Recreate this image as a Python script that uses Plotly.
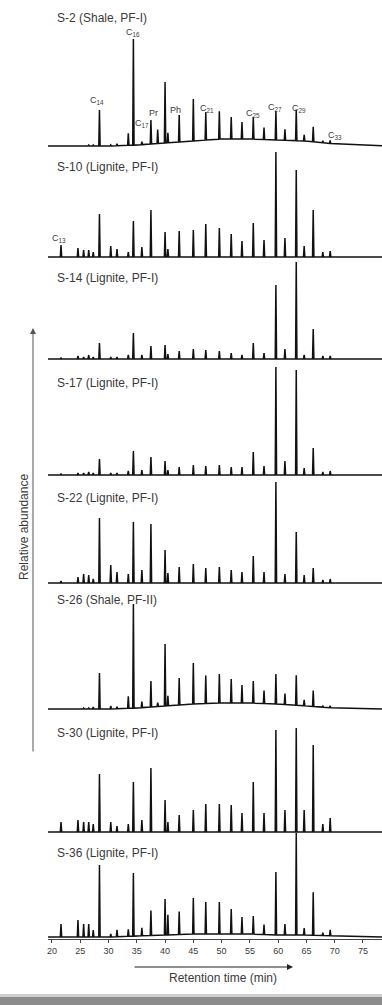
import numpy as np
import plotly.graph_objects as go

# ---------------- data ----------------
SAMPLES = ["S-2 (Shale, PF-I)", "S-10 (Lignite, PF-I)", "S-14 (Lignite, PF-I)",
           "S-17 (Lignite, PF-I)", "S-22 (Lignite, PF-I)", "S-26 (Shale, PF-II)",
           "S-30 (Lignite, PF-I)", "S-36 (Lignite, PF-I)"]

# retention times (min) of resolved peaks
RT = [21.6, 24.6, 25.6, 26.5, 27.3, 28.4, 30.4, 31.5, 33.5, 34.4, 35.9, 37.5, 38.7, 40.0, 40.5,
      42.5, 45.0, 47.2, 49.6, 51.7, 53.6, 55.6, 57.5, 59.6, 61.2, 63.2, 64.6, 66.2, 67.9, 69.2]

# relative abundance (peak heights) per sample
S2 = [0, 0, 0, 1, 1, 36, 1, 2, 12, 106, 3, 24, 14, 61, 10, 27, 42, 28, 28, 22, 17, 22, 12, 29, 11, 31, 6, 15, 2, 3]
S10 = [12, 9, 7, 7, 5, 43, 11, 8, 5, 36, 10, 47, 0, 25, 8, 26, 27, 33, 29, 23, 16, 34, 17, 105, 19, 87, 11, 47, 5, 6]
S14 = [1, 3, 2, 4, 2, 16, 2, 2, 4, 26, 4, 13, 0, 14, 5, 8, 10, 9, 8, 6, 4, 16, 6, 74, 10, 97, 4, 30, 3, 3]
S17 = [1, 2, 2, 3, 2, 16, 2, 2, 4, 24, 5, 18, 0, 14, 5, 8, 10, 9, 10, 8, 8, 23, 9, 108, 14, 105, 7, 27, 3, 4]
S22 = [2, 6, 9, 8, 4, 65, 18, 11, 9, 61, 13, 59, 0, 33, 10, 16, 19, 15, 16, 13, 11, 27, 11, 101, 9, 51, 8, 15, 3, 4]
S26 = [0, 0, 1, 1, 2, 36, 3, 2, 12, 104, 6, 26, 4, 62, 10, 27, 41, 28, 29, 24, 18, 22, 13, 30, 11, 30, 6, 16, 1, 2]
S30 = [10, 12, 10, 10, 8, 58, 10, 6, 8, 50, 12, 64, 0, 32, 10, 17, 22, 28, 28, 27, 19, 50, 19, 102, 22, 104, 22, 87, 8, 14]
S36 = [13, 17, 13, 13, 7, 72, 3, 7, 7, 63, 8, 25, 0, 36, 20, 23, 36, 32, 32, 25, 17, 18, 10, 63, 11, 102, 7, 43, 3, 6]
HEIGHTS = [S2, S10, S14, S17, S22, S26, S30, S36]

# unresolved complex mixture (baseline hump)
HUMP_RT = [19, 30, 35, 40, 45, 50, 55, 60, 65, 70, 79]
HUMP_S2 = [0, 0, 1, 3, 5, 7, 7, 6, 5, 2, 0]
HUMP_S26 = [0, 0, 1, 3, 5, 6, 6, 5, 3, 1, 0]
HUMP_S36 = [0, 0, 1, 2, 3, 3, 3, 2, 2, 1, 0]
HUMP_NONE = [0] * 11
HUMPS = [HUMP_S2, HUMP_NONE, HUMP_NONE, HUMP_NONE, HUMP_NONE, HUMP_S26, HUMP_NONE, HUMP_S36]

# S-2 peak labels
PK_LABELS = ["C<sub>14</sub>", "C<sub>16</sub>", "C<sub>17</sub>", "Pr", "Ph", "C<sub>21</sub>",
             "C<sub>25</sub>", "C<sub>27</sub>", "C<sub>29</sub>", "C<sub>33</sub>"]
PK_LABEL_RT = [28.0, 34.3, 35.9, 37.9, 41.8, 47.4, 55.6, 59.5, 63.7, 70.1]
PK_LABEL_PX = [100, 32, 123, 113, 110, 108, 113, 107, 108, 135]

XTICKS = [20, 25, 30, 35, 40, 45, 50, 55, 60, 65, 70, 75]

# ---------------- layout geometry (pixels) ----------------
W, H = 382, 1005
ML, MB = 48, 66
PH = H - MB  # plot height in px (939)
PPM = 5.655  # px per minute
X0 = 19.3
X1 = X0 + (W - ML) / PPM

BASE_PX = [146, 257, 359, 475, 583, 709, 832, 937]
LABEL_PX = [18, 167, 278, 383, 498, 600, 733, 853]

fig = go.Figure()
w = 0.12
for name, hts, hump, bpx in zip(SAMPLES, HEIGHTS, HUMPS, BASE_PX):
    off = PH - bpx
    xs = [X0]
    for r, h in zip(RT, hts):
        if h > 0:
            xs += [r - w, r, r + w]
    xs.append(X1)
    xs = np.array(xs)
    base = np.interp(xs, HUMP_RT, hump) + off
    ys = base.copy()
    i = 1
    for r, h in zip(RT, hts):
        if h > 0:
            ys[i + 1] += h
            i += 3
    fig.add_trace(go.Scatter(x=xs, y=ys, mode="lines", name=name,
                             line=dict(color="#111111", width=1.5), showlegend=False,
                             hoverinfo="skip"))

ann = []
for name, lp in zip(SAMPLES, LABEL_PX):
    ann.append(dict(x=X0 + (55 - ML) / PPM, y=PH - lp, xref="x", yref="y", text=name,
                    showarrow=False, xanchor="left", yanchor="middle",
                    font=dict(size=12, color="#3a3a3a", family="Liberation Sans")))
for t, r, p in zip(PK_LABELS, PK_LABEL_RT, PK_LABEL_PX):
    ann.append(dict(x=r, y=PH - p, xref="x", yref="y", text=t, showarrow=False,
                    xanchor="center", yanchor="middle",
                    font=dict(size=9, color="#3a3a3a", family="Liberation Sans")))
ann.append(dict(x=21.2, y=PH - 238, xref="x", yref="y", text="C<sub>13</sub>", showarrow=False,
                xanchor="center", yanchor="middle",
                font=dict(size=9, color="#3a3a3a", family="Liberation Sans")))
# y arrow
ann.append(dict(x=(33 - ML) / (W - ML), y=(PH - 328) / PH, xref="paper", yref="paper",
                ax=0, ay=425, axref="pixel", ayref="pixel", text="", showarrow=True,
                arrowhead=2, arrowsize=1.2, arrowwidth=1, arrowcolor="#555"))
ann.append(dict(x=(15 - ML) / (W - ML), y=(PH - 527) / PH, xref="paper", yref="paper",
                text="Relative abundance", textangle=-90, showarrow=False,
                font=dict(size=12, color="#3a3a3a", family="Liberation Sans")))
# x arrow + title
ann.append(dict(x=X0 + (293 - ML) / PPM, y=(PH - 967) / PH, xref="x", yref="paper",
                ax=-160, ay=0, text="", showarrow=True, arrowhead=2, arrowsize=1.2,
                arrowwidth=1, arrowcolor="#222"))
ann.append(dict(x=X0 + (223 - ML) / PPM, y=(PH - 978) / PH, xref="x", yref="paper",
                text="Retention time (min)", showarrow=False, yanchor="middle",
                font=dict(size=12, color="#3a3a3a", family="Liberation Sans")))

shapes = [
    dict(type="rect", xref="paper", yref="paper", x0=-ML / (W - ML), x1=1,
         y0=(PH - 1005) / PH, y1=(PH - 997) / PH, fillcolor="#8c8c8c", line_width=0, layer="above"),
    dict(type="rect", xref="paper", yref="paper", x0=-ML / (W - ML), x1=1,
         y0=(PH - 997) / PH, y1=(PH - 994) / PH, fillcolor="#d0d0d0", line_width=0, layer="above"),
]

fig.update_layout(
    width=W, height=H, margin=dict(l=ML, r=0, t=0, b=MB),
    paper_bgcolor="white", plot_bgcolor="white",
    xaxis=dict(range=[X0, X1], tickvals=XTICKS, showgrid=False, zeroline=False,
               showline=True, linecolor="#444", linewidth=1, ticks="outside", ticklen=3,
               tickcolor="#444", tickfont=dict(size=9, color="#3a3a3a", family="Liberation Sans")),
    yaxis=dict(range=[0, PH], visible=False, fixedrange=True),
    annotations=ann, shapes=shapes,
)
fig.write_html("out.html")
